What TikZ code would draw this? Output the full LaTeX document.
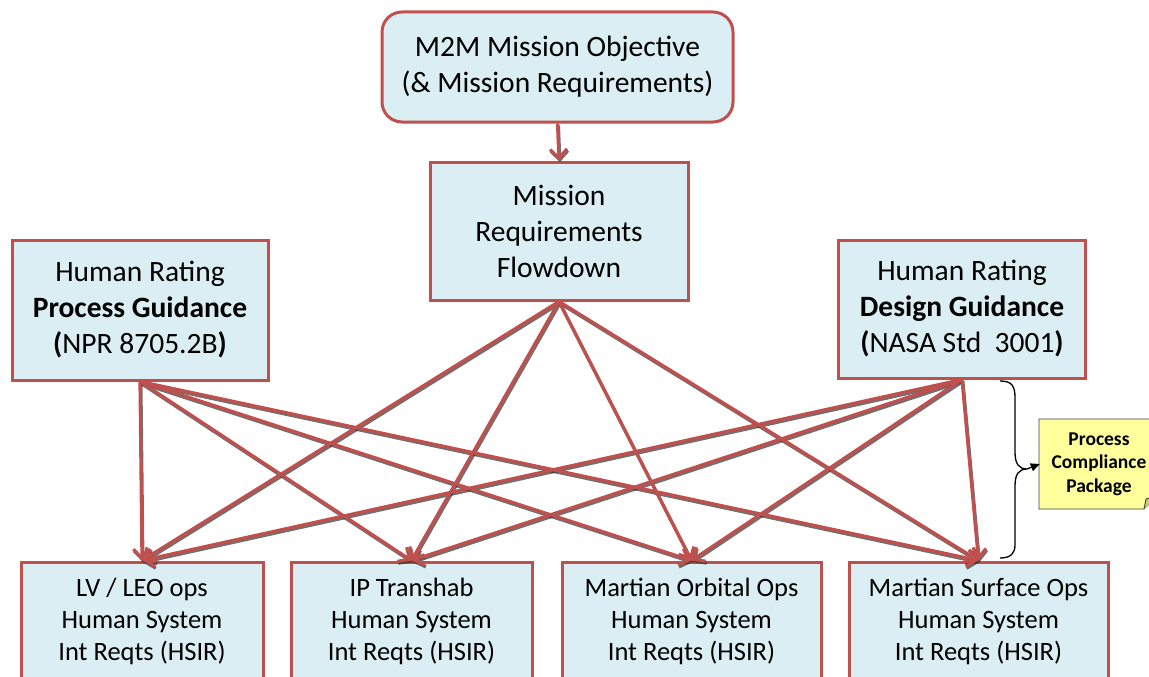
\documentclass[tikz,border=0pt]{standalone}
\usepackage{fontspec}
\setmainfont{Carlito}
\usetikzlibrary{arrows.meta}
\definecolor{boxred}{HTML}{C0504D}
\definecolor{boxfill}{HTML}{DAEEF3}
\definecolor{notefill}{HTML}{FFFF9C}
\begin{document}
\begin{tikzpicture}[x=1pt,y=-1pt,
  box/.style={draw=boxred, fill=boxfill, line width=3pt, align=center, inner sep=0pt,
    font=\fontsize{29.5}{36}\selectfont},
  lowbox/.style={box, font=\fontsize{26.5}{32}\selectfont, minimum height=118pt},
  conn/.style={draw=boxred, line width=3.2pt, -{Straight Barb[length=9pt,width=17pt]}},
  connshadow/.style={draw=black!80, opacity=0.7, line width=3.2pt, -{Straight Barb[length=9pt,width=17pt]}},
  bracestyle/.style={draw=black, line width=1.3pt},
  notestyle/.style={draw=black!75, fill=notefill, line width=0.9pt}
]
\useasboundingbox (0,0) rectangle (1149,677);
\clip (0,0) rectangle (1149,677);

% boxes
\node[box, rounded corners=20pt, minimum width=351pt, minimum height=110pt] (top) at (557.5,67)
  {M2M Mission Objective\\(\& Mission Requirements)};
\node[box, minimum width=258pt, minimum height=138pt] (mid) at (559,231)
  {Mission\\Requirements\\Flowdown};
\node[box, minimum width=256pt, minimum height=140pt] (proc) at (140,310)
  {Human Rating\\\textbf{Process Guidance}\\\textbf{(}NPR 8705.2B\textbf{)}};
\node[box, minimum width=247pt, minimum height=138pt] (des) at (962,309)
  {Human Rating\\\textbf{Design Guidance}\\\textbf{(}NASA Std\ \ 3001\textbf{)}};

\node[lowbox, minimum width=242pt] (b1) at (142,621) {LV / LEO ops\\Human System\\Int Reqts (HSIR)};
\node[lowbox, minimum width=241pt] (b2) at (411.5,621) {IP Transhab\\Human System\\Int Reqts (HSIR)};
\node[lowbox, minimum width=259pt] (b3) at (691.5,621) {Martian Orbital Ops\\Human System\\Int Reqts (HSIR)};
\node[lowbox, minimum width=259pt] (b4) at (978.5,621) {Martian Surface Ops\\Human System\\Int Reqts (HSIR)};

% shadows of connectors
\begin{scope}[transform canvas={shift={(0.9pt,-1.8pt)}}]
  \draw[connshadow] (top.south) -- (mid.north);
  \foreach \s in {proc,mid,des}
    \foreach \t in {b1,b2,b3,b4}
      \draw[connshadow] (\s.south) -- (\t.north);
\end{scope}

% connectors
\draw[conn] (top.south) -- (mid.north);
\foreach \s in {proc,mid,des}
  \foreach \t in {b1,b2,b3,b4}
    \draw[conn] (\s.south) -- (\t.north);

% note
\draw[notestyle] (1039,419) -- (1157,419) -- (1157,496) -- (1144,509) -- (1039,509) -- cycle;
\draw[notestyle, fill=notefill!80!black] (1157,496) -- (1146,499) -- (1144,509);
\node[font=\bfseries\fontsize{19.5}{23.5}\selectfont, align=center, inner sep=0pt,
      minimum width=118pt, minimum height=90pt] (note) at (1099,464) {Process\\Compliance\\Package};

% brace
\coordinate (tip) at (1027,469);
\draw[bracestyle] (1000,381) .. controls (1012,381) and (1015,386) .. (1015,398)
  -- (1015,452) .. controls (1015,464) and (1019,469) .. (tip)
  .. controls (1019,469) and (1015,474) .. (1015,486)
  -- (1015,545) .. controls (1015,553) and (1011,558) .. (1000,558);
\draw[bracestyle, -{Triangle[length=9pt,width=8pt]}] (tip) -- (note.west);
\end{tikzpicture}
\end{document}
